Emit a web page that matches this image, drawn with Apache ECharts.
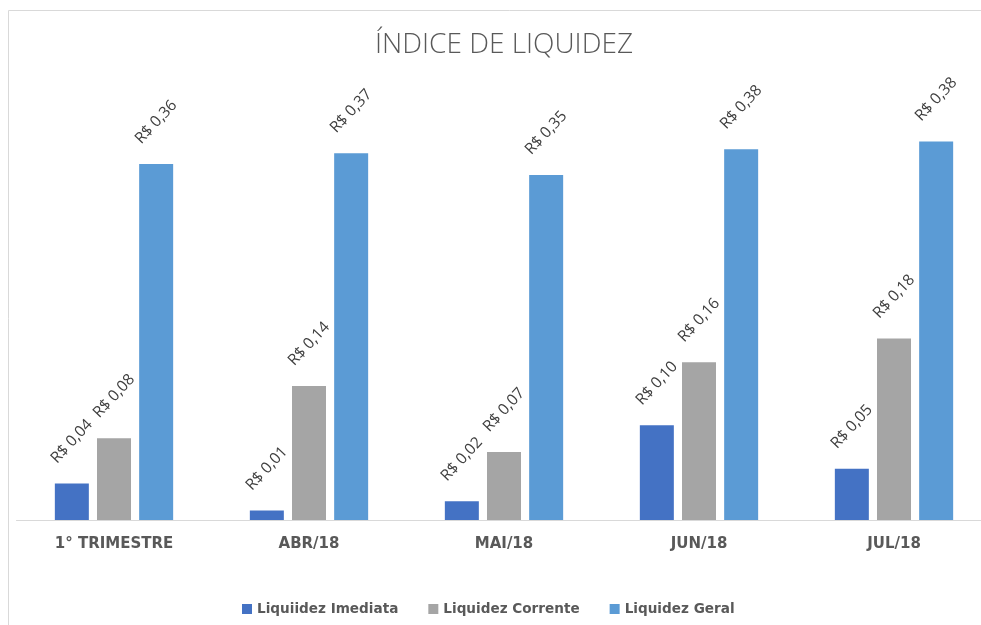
<!DOCTYPE html>
<html>
<head>
<meta charset="utf-8">
<script src="https://cdn.jsdelivr.net/npm/echarts@6/dist/echarts.min.js"></script>
<style>
html,body{margin:0;padding:0;background:#fff;overflow:hidden;width:981px;height:625px;}
#chart{width:1010px;height:625px;}
</style>
</head>
<body>
<div id="chart"></div>
<script>
const categories = ['1° TRIMESTRE', 'ABR/18', 'MAI/18', 'JUN/18', 'JUL/18'];
const liquidezImediata = [0.037, 0.0096, 0.019, 0.096, 0.052];
const liquidezCorrente = [0.083, 0.136, 0.069, 0.160, 0.184];
const liquidezGeral = [0.361, 0.372, 0.350, 0.376, 0.384];
const seriesNames = ['Liquiidez Imediata', 'Liquidez Corrente', 'Liquidez Geral'];
const colors = ['#4472C4', '#A5A5A5', '#5B9BD5'];

const chart = echarts.init(document.getElementById('chart'));
const fmt = p => 'R$ ' + (Math.round(p.value * 100) / 100).toFixed(2).replace('.', ',');
const mk = (name, data, color) => ({
  name: name,
  type: 'bar',
  data: data,
  barWidth: 34,
  barGap: '24%',
  itemStyle: { color: color },
  label: {
    show: true,
    position: 'top',
    distance: 42,
    rotate: 47,
    align: 'center',
    verticalAlign: 'middle',
    formatter: fmt,
    fontFamily: 'Open Sans',
    fontSize: 15.5,
    color: '#404040'
  }
});

chart.setOption({
  animation: false,
  title: {
    text: 'ÍNDICE DE LIQUIDEZ',
    left: 499,
    top: 26,
    textAlign: 'center',
    textStyle: { fontFamily: 'Open Sans', fontWeight: 300, fontSize: 28, color: '#595959' }
  },
  graphic: [{
    type: 'polyline',
    shape: { points: [[8.5, 700], [8.5, 10.5], [1100, 10.5]] },
    style: { fill: 'none', stroke: '#d9d9d9', lineWidth: 1 },
    silent: true
  }],
  legend: {
    data: seriesNames,
    left: 237,
    top: 597,
    icon: 'rect',
    itemWidth: 10,
    itemHeight: 10,
    itemGap: 30,
    textStyle: { fontFamily: 'DejaVu Sans', fontWeight: 'bold', fontSize: 13.6, color: '#595959' }
  },
  grid: { left: 16.5, right: 18.5, top: 125.6, bottom: 105 },
  xAxis: {
    type: 'category',
    data: categories,
    axisLine: { lineStyle: { color: '#d9d9d9' } },
    axisTick: { show: false },
    axisLabel: { margin: 17, fontFamily: 'DejaVu Sans', fontWeight: 'bold', fontSize: 15, color: '#595959' }
  },
  yAxis: {
    type: 'value',
    min: 0,
    max: 0.4,
    show: false,
    splitLine: { show: false }
  },
  series: [
    mk(seriesNames[0], liquidezImediata, colors[0]),
    mk(seriesNames[1], liquidezCorrente, colors[1]),
    mk(seriesNames[2], liquidezGeral, colors[2])
  ]
});
</script>
</body>
</html>
